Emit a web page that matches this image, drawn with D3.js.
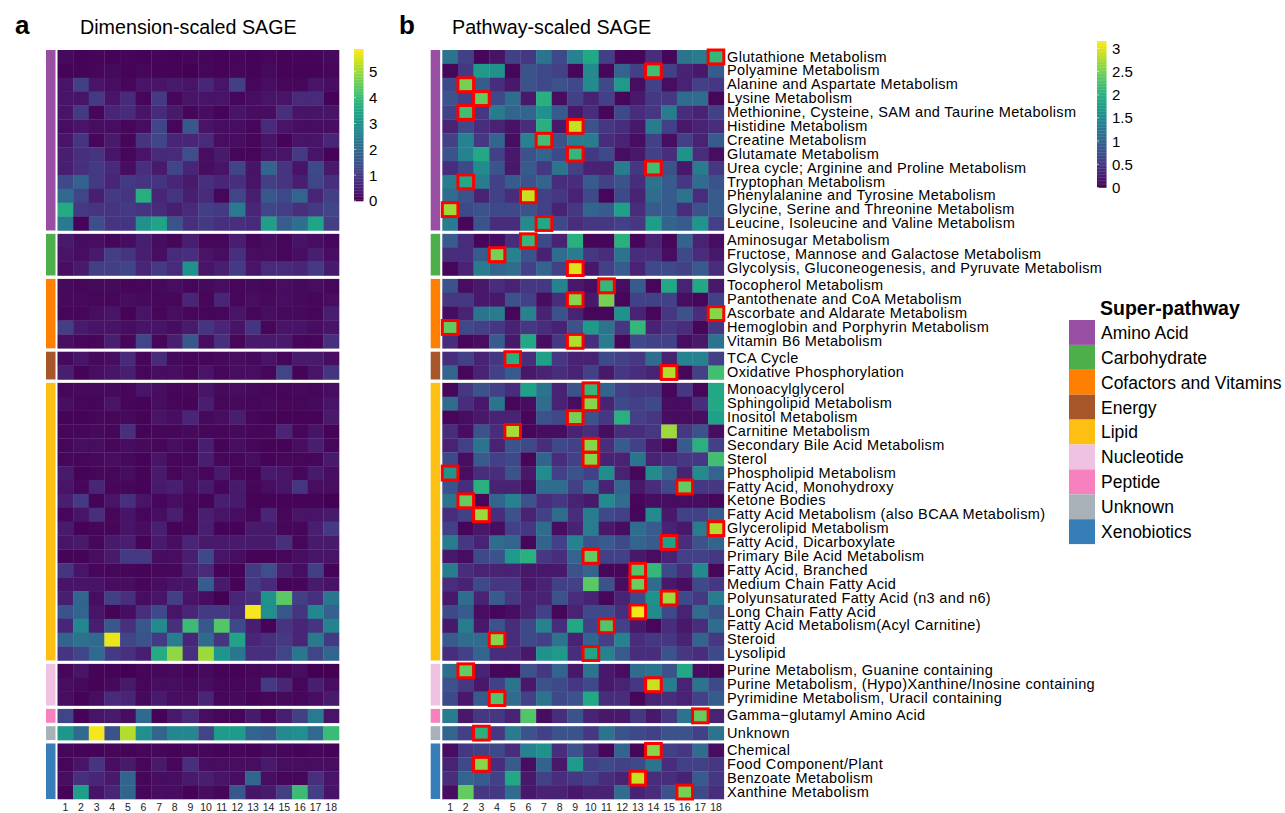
<!DOCTYPE html>
<html>
<head>
<meta charset="utf-8">
<script src="https://d3js.org/d3.v7.min.js"></script>
<style>
  body { margin: 0; background: #fff; }
  text { font-family: "Liberation Sans", Arial, Helvetica, sans-serif; }
</style>
</head>
<body>
<div id="chart"></div>
<script>
// super-pathway groups and their colours
var groups = ["Amino Acid", "Carbohydrate", "Cofactors and Vitamins", "Energy", "Lipid",
  "Nucleotide", "Peptide", "Unknown", "Xenobiotics"];
var groupColors = ["#984ea3", "#4daf4a", "#ff7f00", "#a65628", "#fdbf11",
  "#efc2e3", "#f781bf", "#a9b1b8", "#377eb8"];

// pathways (rows), in plotting order
var pathways = [
  "Glutathione Metabolism", "Polyamine Metabolism", "Alanine and Aspartate Metabolism", "Lysine Metabolism",
  "Methionine, Cysteine, SAM and Taurine Metabolism", "Histidine Metabolism", "Creatine Metabolism",
  "Glutamate Metabolism", "Urea cycle; Arginine and Proline Metabolism", "Tryptophan Metabolism",
  "Phenylalanine and Tyrosine Metabolism", "Glycine, Serine and Threonine Metabolism",
  "Leucine, Isoleucine and Valine Metabolism",
  "Aminosugar Metabolism", "Fructose, Mannose and Galactose Metabolism",
  "Glycolysis, Gluconeogenesis, and Pyruvate Metabolism",
  "Tocopherol Metabolism", "Pantothenate and CoA Metabolism", "Ascorbate and Aldarate Metabolism",
  "Hemoglobin and Porphyrin Metabolism", "Vitamin B6 Metabolism",
  "TCA Cycle", "Oxidative Phosphorylation",
  "Monoacylglycerol", "Sphingolipid Metabolism", "Inositol Metabolism", "Carnitine Metabolism",
  "Secondary Bile Acid Metabolism", "Sterol", "Phospholipid Metabolism", "Fatty Acid, Monohydroxy",
  "Ketone Bodies", "Fatty Acid Metabolism (also BCAA Metabolism)", "Glycerolipid Metabolism",
  "Fatty Acid, Dicarboxylate", "Primary Bile Acid Metabolism", "Fatty Acid, Branched",
  "Medium Chain Fatty Acid", "Polyunsaturated Fatty Acid (n3 and n6)", "Long Chain Fatty Acid",
  "Fatty Acid Metabolism(Acyl Carnitine)", "Steroid", "Lysolipid",
  "Purine Metabolism, Guanine containing", "Purine Metabolism, (Hypo)Xanthine/Inosine containing",
  "Pyrimidine Metabolism, Uracil containing",
  "Gamma\u2212glutamyl Amino Acid",
  "Unknown",
  "Chemical", "Food Component/Plant", "Benzoate Metabolism", "Xanthine Metabolism"
];
// number of pathways in each super-pathway
var groupSizes = [13, 3, 5, 2, 20, 3, 1, 1, 4];

// dimensions 1..18
var dims = d3.range(1, 19);

// panel a: dimension-scaled SAGE
var sageDim = [
  [0.15,0.05,0.1,0.05,0.1,0.05,0.1,0.05,0.1,0.1,0.05,0.1,0.05,0.1,0.05,0.1,0.1,0.15],
  [0.05,0.05,0.1,0.15,0.05,0.1,0.05,0.05,0.02,0.1,0.05,0.1,0.05,0.15,0.05,0.05,0.05,0.1],
  [0.3,1.1,0.3,0.2,0.1,0.3,0.3,0.4,0.3,0.6,0.3,1.1,0.1,0.2,0.1,0.1,0.3,0.2],
  [0.3,0.3,1.0,0.3,0.7,0.1,1.0,0.1,0.3,0.3,0.3,0.1,0.2,0.3,0.3,0.7,0.7,0.05],
  [0.3,1.0,0.1,0.6,0.7,0.3,0.7,0.4,0.1,0.2,0.05,0.3,0.2,0.2,0.8,0.3,0.3,0.3],
  [0.2,0.3,0.2,0.2,0.1,0.2,1.2,0.1,1.6,0.3,0.2,0.2,0.1,0.7,0.3,0.2,0.2,0.2],
  [0.3,0.9,0.1,0.4,0.1,0.9,1.2,0.6,0.6,0.7,0.2,0.2,0.1,0.3,0.05,0.3,0.3,0.6],
  [0.5,0.8,0.9,0.3,0.1,0.3,0.7,0.7,1.4,0.2,0.4,0.1,0.1,0.3,0.3,1.0,0.3,0.05],
  [0.5,0.8,1.0,0.7,0.2,0.8,0.4,1.2,0.6,0.2,0.3,1.2,0.3,1.9,0.9,0.3,1.3,0.4],
  [1.3,1.8,1.0,0.6,1.0,0.9,0.9,0.6,0.4,0.8,0.6,0.8,0.3,1.1,0.9,0.5,1.2,0.8],
  [2.0,1.2,0.5,1.0,0.9,3.7,0.6,0.9,0.5,0.7,0.1,1.2,0.5,1.6,1.3,1.9,0.6,1.1],
  [3.6,1.0,0.9,0.9,1.0,0.9,0.7,0.5,0.7,1.1,1.0,2.4,0.6,1.2,1.1,0.8,1.0,1.2],
  [2.4,0.05,1.4,0.9,0.9,3.0,3.4,1.5,0.8,1.0,0.8,0.8,0.7,3.3,1.7,2.1,3.4,1.1],
  [0.4,0.2,0.2,0.1,0.2,0.5,0.2,0.1,0.5,0.1,0.1,0.5,0.1,0.2,0.1,0.3,0.2,0.1],
  [0.3,0.2,0.4,1.1,0.9,0.5,0.2,0.7,0.8,0.3,0.2,0.8,0.2,0.2,0.1,0.2,0.5,0.2],
  [0.2,0.4,1.1,1.1,1.2,0.6,1.0,0.7,3.0,0.3,0.5,1.0,0.3,0.7,0.7,0.6,1.0,0.4],
  [0.15,0.1,0.15,0.15,0.1,0.1,0.15,0.2,0.1,0.15,0.2,0.1,0.15,0.1,0.2,0.15,0.2,0.1],
  [0.15,0.15,0.1,0.1,0.2,0.15,0.1,0.1,0.6,0.1,0.6,0.1,0.2,0.15,0.2,0.15,0.1,0.2],
  [0.1,0.1,0.2,0.3,0.05,0.3,0.1,0.2,0.1,0.1,0.1,0.3,0.1,0.2,0.15,0.15,0.1,0.5],
  [1.1,0.4,0.3,0.3,0.2,0.3,0.3,0.2,0.4,0.9,0.6,0.3,0.9,0.1,0.3,0.3,0.2,0.3],
  [0.2,0.1,0.1,0.5,0.1,1.2,0.1,0.5,1.6,0.2,0.8,0.1,0.4,0.4,0.4,0.1,0.1,0.8],
  [0.15,0.3,0.15,0.2,0.7,0.1,0.7,0.15,0.1,0.1,0.15,0.2,0.15,0.3,0.1,0.4,0.4,0.2],
  [0.5,0.05,0.2,0.3,0.5,0.1,0.2,0.2,0.1,0.3,0.1,0.2,0.2,0.1,1.2,0.05,0.3,0.9],
  [0.1,0.15,0.15,0.15,0.1,0.3,0.2,0.1,0.1,0.3,0.15,0.2,0.15,0.1,0.1,0.15,0.1,0.2],
  [0.2,0.1,0.1,0.3,0.1,0.05,0.2,0.1,0.05,0.5,0.1,0.15,0.1,0.15,0.1,0.1,0.15,0.3],
  [0.05,0.05,0.1,0.1,0.15,0.05,0.3,0.2,0.6,0.15,0.2,0.5,0.1,0.05,0.05,0.05,0.05,0.4],
  [0.1,0.1,0.15,0.1,0.8,0.05,0.1,0.1,0.15,0.1,0.1,0.15,0.1,0.1,0.6,0.1,0.3,0.05],
  [0.1,0.2,0.2,0.1,0.2,0.15,0.1,0.2,0.1,0.5,0.05,0.2,0.1,0.05,0.05,0.2,0.5,0.1],
  [0.1,0.1,0.15,0.2,0.15,0.05,0.3,0.1,0.1,0.5,0.1,0.1,0.2,0.05,0.1,0.1,0.1,0.4],
  [0.4,0.05,0.1,0.1,0.2,0.05,0.4,0.1,0.2,0.1,0.4,0.1,0.05,0.4,0.3,0.1,0.4,0.2],
  [0.3,0.1,0.6,0.1,0.1,0.05,0.4,0.5,0.2,0.4,0.1,0.4,0.1,0.2,0.3,0.9,0.2,0.2],
  [0.5,1.0,0.05,0.3,0.8,0.3,0.1,0.2,0.1,0.05,0.5,0.4,0.05,0.05,0.05,0.05,0.05,0.02],
  [0.1,0.3,0.8,0.1,0.3,0.1,0.2,0.5,0.1,0.5,0.3,0.2,0.1,0.6,0.1,0.3,0.3,0.4],
  [0.4,0.05,0.1,0.1,0.3,0.2,0.5,0.05,0.1,0.5,0.05,0.05,0.4,0.4,0.1,0.1,0.5,1.0],
  [0.3,0.4,0.1,0.4,0.5,0.05,0.4,0.2,0.6,0.4,0.4,0.4,0.4,0.4,0.8,0.1,0.4,0.4],
  [0.05,0.05,0.2,0.4,1.0,1.0,0.2,0.2,0.5,1.3,0.3,0.2,0.05,0.05,0.1,0.2,0.3,0.3],
  [0.9,0.3,0.1,0.1,0.1,0.05,0.1,0.1,0.5,0.7,0.05,0.05,1.0,1.4,0.5,0.2,1.1,0.05],
  [0.3,0.3,0.3,0.2,0.2,0.1,0.2,0.3,0.3,1.7,0.4,0.05,1.0,0.7,0.05,0.1,0.4,0.3],
  [0.5,1.9,0.2,1.1,0.8,0.2,0.3,1.1,0.3,0.2,0.02,0.6,0.8,3.0,4.4,1.1,0.8,2.3],
  [1.5,1.9,0.3,0.05,0.2,0.8,1.3,0.3,0.6,1.0,1.0,0.7,5.8,2.9,1.6,0.9,2.7,1.8],
  [0.6,2.7,0.5,1.6,0.8,1.6,2.8,0.8,4.0,1.6,4.3,1.3,0.5,0.05,0.9,0.6,0.9,2.6],
  [1.9,2.2,2.0,5.7,1.2,1.5,1.0,2.5,0.6,2.0,0.9,3.4,0.6,0.8,1.0,0.6,2.4,1.0],
  [0.9,1.2,2.0,1.0,0.8,0.5,3.6,4.9,0.8,5.0,3.1,2.3,0.8,0.8,1.2,2.3,1.2,1.9],
  [0.1,0.3,0.05,0.05,0.02,0.1,0.1,0.15,0.05,0.15,0.05,0.05,0.1,0.15,0.1,0.2,0.02,0.02],
  [0.2,0.15,0.05,0.15,0.4,0.1,0.2,0.2,0.15,0.2,0.1,0.1,0.15,1.0,0.6,0.1,0.5,0.2],
  [0.2,0.05,0.2,0.7,0.6,0.15,0.4,0.2,0.2,0.6,0.1,0.15,0.05,0.1,0.15,0.1,0.2,0.4],
  [1.2,0.05,0.3,0.4,0.2,2.0,0.05,0.4,0.7,0.2,0.1,0.1,0.4,0.1,0.5,1.1,2.4,0.3],
  [3.1,2.0,5.8,1.5,5.2,2.9,1.9,2.7,2.7,1.2,3.2,3.2,1.9,1.7,2.8,2.9,2.0,4.0],
  [0.1,0.05,0.05,0.1,0.05,0.1,0.1,0.05,0.1,0.1,0.05,0.1,0.05,0.15,0.1,0.05,0.1,0.05],
  [0.1,0.3,0.9,0.2,0.4,0.1,0.4,0.1,0.8,0.2,0.2,0.2,0.2,0.4,0.2,0.2,0.2,0.2],
  [0.2,0.8,0.6,0.4,1.9,0.1,0.2,0.2,0.4,0.5,0.3,0.2,1.9,0.2,0.1,0.1,0.8,0.3],
  [0.05,3.3,0.3,0.6,1.9,0.1,0.2,0.2,0.05,0.2,0.1,1.6,0.3,0.4,1.1,4.0,1.1,0.3]
];

// panel b: pathway-scaled SAGE
var sagePath = [
  [1.2,0.6,0.05,0.15,0.6,0.5,1.2,0.7,1.4,1.9,0.6,0.05,0.05,0.4,0.05,1.2,1.3,2.1],
  [0.05,0.5,1.7,1.6,0.05,0.8,0.7,0.6,0.05,1.5,0.05,1.0,0.6,2.2,0.6,0.3,0.2,0.9],
  [0.7,2.5,0.9,0.4,0.2,0.8,0.7,0.8,0.7,1.5,0.7,1.7,0.1,0.6,0.1,0.3,0.6,0.5],
  [0.8,0.6,2.4,0.7,1.1,0.2,2.0,0.1,0.6,0.3,0.6,0.05,0.2,0.5,0.5,1.1,1.1,0.05],
  [0.6,2.2,0.5,1.3,1.0,1.0,1.6,0.9,0.2,0.4,0.05,0.7,0.4,0.5,1.3,0.4,0.3,0.6],
  [0.3,0.7,0.4,0.3,0.15,0.4,2.0,0.2,2.9,0.8,0.5,0.4,0.2,1.3,0.6,0.2,0.3,0.4],
  [0.6,1.4,0.5,1.0,0.1,1.4,2.2,0.8,1.3,1.3,0.4,0.3,0.1,0.6,0.1,0.6,0.3,0.9],
  [0.8,1.4,1.9,0.6,0.2,0.8,1.0,0.7,2.1,0.5,0.7,0.1,0.2,0.6,0.4,1.6,0.4,0.1],
  [0.4,0.7,1.5,0.8,0.2,0.9,0.5,1.2,0.6,0.3,0.3,1.3,0.5,2.2,0.8,0.2,1.3,0.5],
  [1.3,1.9,1.3,0.6,0.9,0.8,1.0,0.4,0.4,0.9,0.6,0.8,0.4,1.2,0.9,0.5,1.1,0.8],
  [1.1,0.8,0.3,0.6,0.4,2.9,0.6,0.5,0.3,0.7,0.05,0.7,0.3,1.1,0.9,1.2,0.4,0.9],
  [2.7,0.7,0.8,0.7,0.7,0.8,0.6,0.3,0.5,1.0,0.9,1.8,0.4,0.9,0.9,0.4,0.8,0.9],
  [1.3,0.05,0.8,0.4,0.4,1.5,1.9,0.7,0.4,0.5,0.5,0.6,0.5,1.75,1.0,0.9,1.65,0.6],
  [0.9,0.4,0.05,0.1,0.4,2.1,0.7,0.3,2.0,0.05,0.05,2.0,0.05,0.3,0.05,1.0,0.3,0.1],
  [0.4,0.4,0.9,2.5,1.4,0.8,0.3,1.1,1.3,0.5,0.4,1.2,0.4,0.4,0.1,0.7,0.4,0.2],
  [0.05,0.3,1.3,1.0,1.1,0.6,1.0,0.6,3.0,0.2,0.6,0.9,0.3,0.7,0.7,0.6,0.9,0.4],
  [0.8,0.1,0.2,0.4,0.3,0.5,0.5,1.4,0.2,0.1,2.1,0.1,0.9,0.05,1.9,0.3,1.9,0.2],
  [0.5,0.5,0.2,0.2,0.8,0.6,0.1,0.4,2.6,0.2,2.5,0.05,0.6,0.6,0.6,0.1,0.05,0.6],
  [0.1,0.3,1.2,1.3,0.05,1.4,0.3,0.8,0.3,0.05,0.05,1.6,0.3,0.05,0.5,0.8,0.4,2.6],
  [2.4,0.7,0.6,0.5,0.3,0.5,0.4,0.3,0.8,1.7,1.2,0.5,2.1,0.3,0.5,0.4,0.05,0.5],
  [0.4,0.05,0.1,0.9,0.2,1.9,0.1,0.5,2.8,0.4,1.3,0.05,0.7,0.6,0.6,0.1,0.2,1.2],
  [0.4,0.6,0.3,0.5,2.0,0.4,1.8,0.5,0.3,0.3,0.7,0.6,0.5,1.1,0.3,1.4,1.4,0.6],
  [1.0,0.05,0.3,0.6,0.9,0.2,0.3,0.4,0.3,0.6,0.2,0.5,0.4,0.3,2.8,0.05,0.6,2.2],
  [0.05,0.5,0.8,0.6,0.4,1.8,1.2,0.3,0.8,2.1,1.0,0.6,0.5,0.5,0.05,0.5,0.05,1.9],
  [1.1,0.4,0.2,1.2,0.05,0.1,1.1,0.3,0.1,2.6,0.3,0.7,0.6,0.7,0.1,0.1,0.4,1.9],
  [0.05,0.1,0.2,0.3,0.3,0.05,0.8,0.7,2.5,0.8,0.5,2.0,0.6,0.5,0.1,0.1,0.1,1.8],
  [0.4,0.1,0.8,0.4,2.75,0.05,0.1,0.1,0.3,0.4,0.1,0.4,0.4,0.5,2.7,0.5,0.8,0.1],
  [0.3,0.6,1.2,0.3,0.8,0.7,0.4,0.7,0.6,2.6,0.4,0.9,0.6,0.2,0.05,0.9,2.0,0.6],
  [0.7,0.1,0.9,0.6,0.7,0.05,1.0,0.4,0.6,2.6,0.3,0.3,1.2,0.3,0.4,0.5,0.5,2.2],
  [1.65,0.1,0.4,0.4,0.8,0.2,1.5,0.6,0.8,0.6,1.55,0.3,0.05,1.5,1.0,0.3,1.5,1.0],
  [0.8,0.4,2.0,0.3,0.3,0.1,1.1,1.1,0.6,1.1,0.3,1.0,0.2,0.4,0.7,2.4,0.5,0.5],
  [1.2,2.4,0.05,1.0,1.4,0.8,0.4,0.5,0.3,0.2,1.5,1.1,0.05,0.1,0.1,0.1,0.1,0.05],
  [0.4,0.6,2.7,0.4,0.8,0.3,0.6,1.1,0.4,1.3,0.7,0.6,0.05,1.5,0.2,0.6,0.6,0.9],
  [0.6,0.05,0.2,0.1,0.6,0.5,1.1,0.1,0.3,1.3,0.2,0.1,1.1,0.9,0.3,0.2,1.3,2.8],
  [1.3,0.5,0.3,1.1,1.0,0.05,1.0,0.6,1.4,0.8,0.9,0.7,1.0,0.9,1.8,0.4,0.8,1.0],
  [0.2,0.1,0.7,0.8,1.7,2.0,0.5,0.4,1.0,2.4,0.6,0.6,0.2,0.1,0.3,0.6,0.6,0.5],
  [1.3,0.4,0.3,0.3,0.3,0.2,0.2,0.2,0.8,1.0,0.05,0.05,2.3,2.1,0.7,0.4,1.5,0.05],
  [0.4,0.3,0.7,0.5,0.5,0.2,0.3,0.6,0.6,2.35,0.8,0.1,2.45,1.1,0.2,0.1,0.7,0.5],
  [0.2,1.1,0.3,0.9,0.5,0.3,0.3,0.8,0.4,0.3,0.05,0.3,0.7,1.6,2.7,0.7,0.5,1.3],
  [0.7,0.9,0.1,0.05,0.1,0.3,0.6,0.05,0.3,0.7,0.7,0.4,3.1,1.5,0.7,0.3,1.1,0.8],
  [0.2,1.3,0.2,0.8,0.4,0.7,1.4,0.4,1.9,0.6,2.3,0.6,0.2,0.05,0.4,0.2,0.4,1.1],
  [0.9,1.1,1.1,2.6,0.4,0.7,0.6,1.2,0.3,1.0,0.6,1.4,0.4,0.5,0.5,0.3,1.0,0.5],
  [0.4,0.6,1.0,0.4,0.4,0.2,1.6,1.7,0.4,1.85,1.4,0.9,0.4,0.4,0.8,0.5,0.4,0.7],
  [1.1,2.4,0.3,0.05,0.05,0.8,0.5,1.0,0.2,1.2,0.2,0.1,1.1,1.2,0.8,1.9,0.1,0.05],
  [0.8,0.5,0.2,0.6,1.2,0.2,0.8,0.7,0.5,0.7,0.2,0.3,0.5,2.9,1.3,0.3,1.2,0.7],
  [0.7,0.2,0.9,2.3,1.1,0.6,1.2,0.7,0.8,1.9,0.4,0.4,0.05,0.3,0.4,0.3,0.6,0.9],
  [1.3,0.2,0.5,0.5,0.3,2.3,0.1,0.4,0.8,0.3,0.2,0.2,0.5,0.2,0.5,1.2,2.4,0.3],
  [1.0,0.6,2.0,0.5,1.3,0.8,0.6,0.8,0.8,0.5,1.2,0.8,0.7,0.6,0.8,0.8,0.6,1.2],
  [0.1,0.5,0.6,0.7,0.4,1.4,1.6,0.4,0.8,0.4,0.05,1.0,0.05,2.6,0.6,0.5,1.1,0.1],
  [0.3,0.7,2.6,0.4,0.9,0.1,1.0,0.2,1.7,0.6,0.7,0.6,0.7,1.2,0.4,0.6,0.6,0.5],
  [0.4,1.0,0.9,0.6,1.9,0.2,0.6,0.4,0.5,0.6,0.4,0.3,2.9,0.4,0.4,0.3,0.9,0.5],
  [0.1,2.4,0.5,0.5,1.1,0.2,0.3,0.3,0.2,0.3,0.3,1.1,0.3,0.4,0.8,2.5,0.7,0.4]
];

var dimTicks = [0, 1, 2, 3, 4, 5];
var pathTicks = [0, 0.5, 1, 1.5, 2, 2.5, 3];

var svgWidth = 1285;
var svgHeight = 813;

var svg = d3.select("#chart")
  .append("svg")
  .attr("width", svgWidth)
  .attr("height", svgHeight);

// row -> group index
var rowGroup = [];
groupSizes.forEach(function(n, g) {
  for (var i = 0; i < n; i++) rowGroup.push(g);
});

var plotTop = 50, plotBottom = 799, gap = 3.4;
var y = d3.scaleBand()
  .domain(d3.range(pathways.length))
  .range([plotTop, plotBottom - gap * (groups.length - 1)]);

function rowY(i) { return y(i) + rowGroup[i] * gap; }

var colorA = d3.scaleSequential(d3.interpolateViridis).domain([0, 5.88]);
var colorB = d3.scaleSequential(d3.interpolateViridis).domain([0, 3.16]);

function drawPanel(data, left, barX, color, boxes) {
  var x = d3.scaleBand()
    .domain(dims)
    .range([left, left + 281.5]);

  var g = svg.append("g");

  // side bar with super-pathway colour
  groupSizes.forEach(function(n, gi) {
    var first = d3.sum(groupSizes.slice(0, gi));
    g.append("rect")
      .attr("x", barX)
      .attr("y", rowY(first))
      .attr("width", 9.5)
      .attr("height", y.bandwidth() * n)
      .attr("fill", groupColors[gi]);
  });

  // heatmap cells
  data.forEach(function(row, i) {
    g.selectAll(null)
      .data(row)
      .enter()
      .append("rect")
      .attr("x", (d, j) => x(dims[j]))
      .attr("y", rowY(i))
      .attr("width", x.bandwidth() + 0.3)
      .attr("height", y.bandwidth() + 0.3)
      .attr("fill", d => color(d));
  });

  // red box around the top dimension of each pathway
  if (boxes) {
    data.forEach(function(row, i) {
      var j = d3.maxIndex(row);
      g.append("rect")
        .attr("x", x(dims[j]))
        .attr("y", rowY(i))
        .attr("width", x.bandwidth())
        .attr("height", y.bandwidth())
        .attr("fill", "none")
        .attr("stroke", "#ff0000")
        .attr("stroke-width", 3);
    });
  }

  // column labels
  g.selectAll(null)
    .data(dims)
    .enter()
    .append("text")
    .attr("x", d => x(d) + x.bandwidth() / 2)
    .attr("y", 811)
    .attr("text-anchor", "middle")
    .attr("font-size", "10.5px")
    .attr("fill", "#222")
    .text(d => d);
}

drawPanel(sageDim, 57.5, 46, colorA, false);
drawPanel(sagePath, 442.3, 430.7, colorB, true);

// pathway labels on panel b
svg.append("g").selectAll("text")
  .data(pathways)
  .enter()
  .append("text")
  .attr("x", 727)
  .attr("y", (d, i) => rowY(i) + y.bandwidth() / 2)
  .attr("dy", "0.32em")
  .attr("font-size", "14.5px")
  .attr("letter-spacing", "0.35px")
  .attr("fill", "#000")
  .text(d => d);

// panel titles
svg.append("text").attr("x", 15).attr("y", 34).attr("font-size", "26px")
  .attr("font-weight", "bold").text("a");
svg.append("text").attr("x", 80).attr("y", 34).attr("font-size", "19.7px").text("Dimension-scaled SAGE");
svg.append("text").attr("x", 399).attr("y", 34).attr("font-size", "26px")
  .attr("font-weight", "bold").text("b");
svg.append("text").attr("x", 452).attr("y", 34).attr("font-size", "19.7px").text("Pathway-scaled SAGE");

// colour bars
function colorBar(color, ticks, bx, y0, y1) {
  var s = d3.scaleLinear().domain(color.domain()).range([y1, y0]);
  var g = svg.append("g");
  var steps = d3.range(0, 1, 0.01);
  g.selectAll("rect")
    .data(steps)
    .enter()
    .append("rect")
    .attr("x", bx)
    .attr("width", 9.5)
    .attr("y", d => s(color.domain()[1] * (d + 0.01)))
    .attr("height", (y1 - y0) / 100 + 0.3)
    .attr("fill", d => color(color.domain()[1] * (d + 0.005)));
  g.selectAll("line")
    .data(ticks)
    .enter()
    .append("line")
    .attr("x1", bx).attr("x2", bx + 2)
    .attr("y1", d => s(d)).attr("y2", d => s(d))
    .attr("stroke", "#fff").attr("stroke-width", 0.6);
  g.selectAll("text")
    .data(ticks)
    .enter()
    .append("text")
    .attr("x", bx + 15)
    .attr("y", d => s(d))
    .attr("dy", "0.36em")
    .attr("font-size", "15px")
    .text(d => d);
}
colorBar(colorA, dimTicks, 354, 49, 201);
colorBar(colorB, pathTicks, 1097, 41, 187.5);

// super-pathway legend
var legend = svg.append("g");
legend.append("text")
  .attr("x", 1100).attr("y", 315)
  .attr("font-size", "19.5px").attr("font-weight", "bold")
  .text("Super-pathway");
legend.selectAll("rect")
  .data(groups)
  .enter()
  .append("rect")
  .attr("x", 1069)
  .attr("y", (d, i) => 320 + i * 24.9)
  .attr("width", 26)
  .attr("height", 24.9)
  .attr("fill", (d, i) => groupColors[i]);
legend.selectAll(".lab")
  .data(groups)
  .enter()
  .append("text")
  .attr("class", "lab")
  .attr("x", 1101)
  .attr("y", (d, i) => 320 + i * 24.9 + 12.5)
  .attr("dy", "0.36em")
  .attr("font-size", "17.5px")
  .text(d => d);
</script>
</body>
</html>
